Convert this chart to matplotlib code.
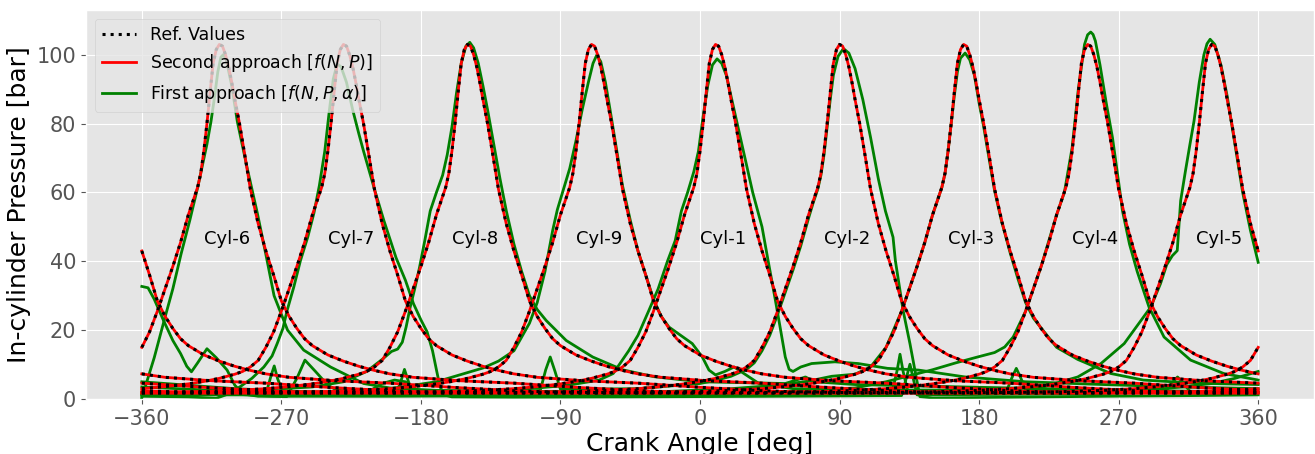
import numpy as np
import matplotlib
matplotlib.use('Agg')
from matplotlib import pyplot as plt

# firing TDC of every cylinder [deg]
cyl_names = ['Cyl-1', 'Cyl-2', 'Cyl-3', 'Cyl-4', 'Cyl-5', 'Cyl-6', 'Cyl-7', 'Cyl-8', 'Cyl-9']
cyl_tdc = [0, 80, 160, 240, 320, -320, -240, -160, -80]

# reference pressure trace of one cylinder, angle measured from its own TDC
ref_rel = [-360, -320, -280, -240, -200, -180, -160, -140, -120, -105, -90, -80, -70, -60,
           -55, -50, -45, -40, -35, -30, -25, -20, -15, -10, -7, -4, -2, 0, 2, 4, 6, 8, 10,
           12, 14, 16, 18, 20, 23, 26, 30, 35, 40, 45, 50, 55, 60, 65, 70, 80, 90, 100, 110,
           120, 135, 150, 165, 180, 200, 220, 240, 280, 300, 330, 360]
ref_p = [1.8, 1.7, 1.7, 1.8, 1.9, 2.0, 2.2, 2.5, 3.0, 3.6, 4.4, 5.1, 6.0, 7.2,
         8.0, 9.3, 11.2, 15.0, 19.5, 25.5, 32.0, 38.5, 45.5, 53.5, 57.5, 61.5, 65.5, 72.0, 80.0, 89.0, 97.5, 101.5, 103.0,
         102.5, 100.0, 96.5, 92.0, 87.0, 80.0, 72.0, 61.0, 51.0, 43.0, 36.0, 28.5, 24.0, 20.5, 17.5, 15.5, 12.8, 11.0, 9.5, 8.3,
         7.3, 6.3, 5.8, 5.3, 5.0, 4.6, 4.0, 3.4, 2.4, 2.1, 1.9, 1.8]
# second approach lies on top of the reference
red_p = list(ref_p)

# first approach, one trace per cylinder (absolute crank angle)
g1_ang = [-360, -280, -200, -150, -110, -85, -65, -56, -46, -40, -33, -27, -21, -16, -12, -8, -4, -1, 2, 5, 8, 11, 14,
          17, 20, 25, 30, 34, 37, 40, 44, 48.5, 52, 55, 57.5, 60, 65, 72, 87, 102, 121, 141, 171, 210, 260, 310, 360]
g1_p = [1.2, 1.2, 1.5, 2.2, 3.0, 4.0, 5.5, 7.4, 14.0, 18.5, 25.7, 32.0, 40.0, 46.0, 54.6, 60.0, 66.0, 72.0, 82.0, 91.0, 97.0, 98.8, 97.5,
        94.0, 88.0, 78.0, 68.0, 60.0, 55.0, 50.0, 40.0, 29.0, 20.0, 12.2, 8.6, 8.0, 9.3, 10.3, 10.8, 10.3, 8.9, 8.4, 6.4, 5.0, 4.2, 3.5, 3.0]

g2_ang = [-360, -300, -200, -130, -103, -99.5, -96.6, -93.5, -90, -40, 0, 10, 20, 30, 35, 40, 45, 50, 55, 60, 65, 70, 73, 76,
          78, 80, 82, 84, 86, 89, 92.5, 96, 100, 105, 110, 115, 119.6, 124.5, 126, 131, 135.4, 138.6, 141.8, 150, 200, 260, 320, 360]
g2_p = [1.8, 1.6, 1.5, 1.5, 2.5, 8.5, 12.2, 8.0, 2.8, 3.0, 4.5, 5.4, 6.6, 8.6, 10.5, 14.0, 18.5, 24.5, 31.0, 37.5, 44.5, 52.5, 57.0, 61.0,
        65.0, 71.0, 79.0, 87.0, 94.0, 99.5, 101.8, 100.5, 96.0, 87.0, 76.0, 64.0, 54.6, 47.0, 40.2, 25.7, 16.1, 8.4, 0.7, 0.3, 0.5, 0.8, 1.0, 1.2]

g3_ang = [-360, -300, -240, -196, -193, -190.6, -188, -185, -120, -60, -20, 20, 50, 70, 85, 100, 110, 120, 130, 135, 140, 145,
          150, 153, 156, 158, 160, 162, 164, 166, 168, 171, 174, 177, 180, 183, 186, 190, 194.3, 200, 205, 210, 215, 222, 230,
          243.6, 265, 286, 320, 360]
g3_p = [3.5, 2.2, 1.5, 1.6, 5.0, 8.6, 5.0, 1.6, 1.5, 1.8, 2.2, 3.0, 4.0, 5.2, 6.6, 7.2, 9.3, 15.0, 25.5, 32.0, 38.5, 45.5,
        53.5, 57.5, 61.5, 65.5, 72.0, 80.0, 88.0, 95.0, 99.0, 100.5, 98.5, 94.0, 86.0, 79.0, 71.0, 60.5, 52.0, 42.5, 35.0, 28.0, 23.5, 19.5, 15.0,
        11.5, 7.4, 5.5, 4.6, 4.2]

g4_ang = [-360, -330, -300, -260, -215, -205, -197, -190, -182, -120, -60, 0, 60, 100, 120, 150, 165, 179, 190, 196.5, 202,
          210, 220, 230, 235, 240, 244, 248, 250, 252, 253.5, 255, 258, 262, 266, 270, 272.5, 277, 282, 289.6, 299.3, 316.4,
          337.8, 360]
g4_p = [5.0, 4.0, 3.0, 2.2, 1.8, 4.5, 5.5, 5.0, 2.5, 1.5, 1.5, 1.6, 2.2, 3.2, 5.0, 8.5, 10.5, 12.2, 13.5, 15.1, 18.0,
        25.5, 38.5, 53.5, 60.0, 73.0, 90.0, 103.0, 105.8, 106.6, 105.9, 104.0, 97.0, 86.0, 76.0, 63.0, 54.6, 45.0, 37.0, 26.7, 18.0, 11.3,
        7.4, 5.5]

g5_ang = [-360, -356, -352, -346, -340, -335, -331, -328, -324, -318, -312, -305, -300, -295, -285, -200, -100, 0, 100, 150,
          200, 222, 243.6, 258.6, 273.6, 290.7, 297, 301, 304.6, 307.8, 310, 313, 316, 318.6, 322, 325, 327, 329, 332, 336, 340,
          345, 350, 355, 360]
g5_p = [32.7, 32.3, 29.0, 22.8, 17.0, 13.2, 9.5, 7.9, 10.5, 14.6, 12.0, 8.4, 4.0, 1.5, 0.8, 0.8, 1.0, 1.2, 1.6, 2.0,
        3.0, 3.6, 6.4, 10.3, 16.1, 26.7, 33.5, 39.0, 41.6, 43.1, 57.6, 66.0, 74.0, 80.7, 92.0, 100.0, 103.2, 104.5, 103.0, 97.0, 88.0,
        74.0, 60.0, 49.0, 39.7]

g6_ang = [-360, -352, -345.6, -340, -334.7, -329, -324, -318, -315.4, -313, -311, -309, -307.5, -305.5, -302, -298.4, -292,
          -285.5, -280, -274.7, -266, -255.6, -238.3, -216.9, -200, -170, -100, 0, 100, 124, 127, 129, 131, 134, 200, 260,
          300, 330, 345, 360]
g6_p = [0.3, 12.0, 22.8, 32.0, 42.1, 52.0, 61.4, 74.0, 80.6, 88.0, 95.0, 99.3, 100.0, 98.5, 91.0, 80.6, 67.0,
        54.0, 42.0, 30.0, 20.0, 14.2, 9.3, 4.5, 3.2, 2.5, 2.2, 2.0, 2.0, 2.2, 8.0, 13.0, 8.0, 2.2, 2.2, 2.5,
        3.0, 4.5, 6.0, 8.0]

g7_ang = [-360, -330, -312, -304, -296.5, -289, -281.3, -276, -272.7, -269, -266.3, -262, -257.7, -253, -249, -245.5, -242,
          -239, -236.5, -234, -231.5, -228, -224, -220, -217, -210, -204, -196, -190, -184.8, -180, -176, -172.5, -170, -167.7,
          -165, -160, -120, -50, 50, 130, 133, 135.4, 137.5, 140, 250, 300, 304, 308, 312, 316, 360]
g7_p = [0.8, 0.6, 0.2, 1.5, 3.6, 6.0, 9.3, 12.5, 16.1, 20.5, 25.7, 32.5, 40.2, 47.0, 54.0, 62.0, 72.0,
        84.0, 93.0, 97.3, 96.5, 92.0, 84.0, 77.0, 72.0, 61.0, 52.0, 41.0, 34.5, 27.7, 23.0, 19.5, 14.0, 8.5, 3.6,
        1.2, 0.6, 0.5, 0.6, 0.8, 1.0, 6.0, 10.1, 6.0, 1.2, 1.5, 2.0, 4.5, 6.4, 4.5, 2.2, 2.0]

g8_ang = [-360, -320, -285, -279, -276.5, -274.6, -272.5, -270, -250, -230, -215, -205, -199, -195, -192, -189.5, -187, -184,
          -181, -177.5, -174, -170, -166, -163, -160, -157, -154, -151, -148.5, -146, -143, -140, -137, -133, -129, -124.9,
          -120, -115, -110, -105, -99.2, -86.3, -69.2, -50, -30, 0, 55, 62, 68, 74, 100, 200, 280, 360]
g8_p = [1.5, 1.6, 2.0, 3.0, 7.0, 9.6, 6.0, 3.0, 3.5, 5.0, 8.0, 11.5, 13.8, 14.5, 16.5, 21.0, 26.5, 32.0,
        38.0, 46.0, 54.6, 60.0, 65.0, 71.0, 79.0, 89.0, 97.5, 102.5, 103.6, 102.0, 97.5, 91.0, 84.0, 74.0, 64.0, 54.6,
        45.0, 37.0, 30.0, 26.0, 22.8, 17.0, 12.2, 8.5, 6.5, 5.0, 4.5, 5.5, 6.4, 5.0, 4.2, 3.2, 2.5, 2.0]

g9_ang = [-360, -300, -275, -266.5, -260, -254.8, -248, -240, -234.4, -220, -200, -170, -140, -130, -120, -110, -105, -100,
          -95, -92, -88, -84, -80, -76, -72, -69, -66.6, -64, -61, -58, -54, -50, -45, -40, -35, -30, -25, -20, -5, 1.5,
          5.8, 10, 16, 22, 28, 38, 60, 120, 198, 201, 204, 207, 210, 280, 360]
g9_p = [1.5, 1.4, 0.8, 0.7, 6.0, 11.3, 8.0, 4.0, 2.6, 2.0, 3.0, 5.0, 9.0, 11.0, 14.0, 22.0, 28.0, 37.0,
        49.0, 55.0, 61.0, 67.0, 75.0, 84.0, 92.0, 97.5, 99.9, 98.0, 92.0, 84.0, 73.0, 62.0, 52.0, 43.0, 36.0, 29.0, 24.0, 20.9, 16.1, 12.2,
        8.4, 7.0, 8.0, 9.3, 7.5, 4.5, 3.0, 2.6, 2.6, 6.0, 8.9, 6.0, 2.6, 2.2, 2.0]

green_traces = [(g1_ang, g1_p), (g2_ang, g2_p), (g3_ang, g3_p), (g4_ang, g4_p), (g5_ang, g5_p),
                (g6_ang, g6_p), (g7_ang, g7_p), (g8_ang, g8_p), (g9_ang, g9_p)]


# shift one-cylinder trace to its TDC and wrap it into -360..360
def wrapCycle(rel, p, tdc):
    ang = np.concatenate([np.array(rel) + tdc + k for k in (-720, 0, 720)])
    val = np.tile(p, 3)
    keep = (ang >= -360) & (ang <= 360)
    return ang[keep], val[keep]


plt.style.use('ggplot')
fig = plt.figure(figsize=(13.15, 4.54), dpi=100)
ax = fig.add_axes([86 / 1315, 55 / 454, 1228 / 1315, 389 / 454])

for i, tdc in enumerate(cyl_tdc):
    a, p = wrapCycle(ref_rel, ref_p, tdc)
    ax.plot(a, p, ':', color='k', lw=2.2, zorder=4, label='Ref. Values' if i == 0 else None)
    a, p = wrapCycle(ref_rel, red_p, tdc)
    ax.plot(a, p, '-', color='red', lw=2.0, zorder=3,
            label=r'Second approach [$f(N,P)$]' if i == 0 else None)
    ga, gp = green_traces[i]
    ax.plot(ga, gp, '-', color='green', lw=2.0, zorder=2,
            label=r'First approach [$f(N,P,\alpha)$]' if i == 0 else None)
    ax.text(tdc, 45, cyl_names[i], fontsize=13, color='black', zorder=5)

ax.set_xlim(-396, 396)
ax.set_ylim(0, 113)
ax.set_xticks([-360, -270, -180, -90, 0, 90, 180, 270, 360])
ax.set_yticks([0, 20, 40, 60, 80, 100])
ax.tick_params(labelsize=15)
ax.set_xlabel('Crank Angle [deg]', fontsize=18, color='black', labelpad=2)
ax.set_ylabel('In-cylinder Pressure [bar]', fontsize=18, color='black')
ax.legend(loc='upper left', fontsize=12.5)

plt.savefig('out.png', dpi=100)
